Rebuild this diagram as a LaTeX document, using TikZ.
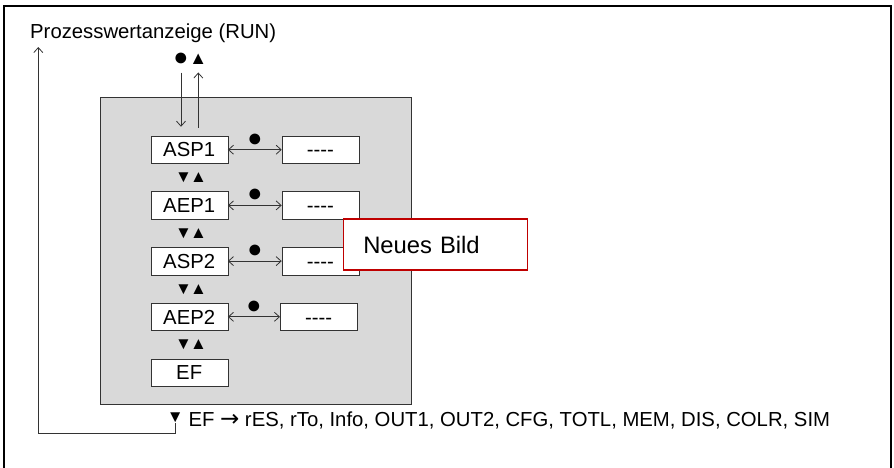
\documentclass[tikz,border=0pt]{standalone}
\usepackage{fontspec}
\setmainfont{Liberation Sans}
\newfontfamily\arrowfont{DejaVu Sans}
\usetikzlibrary{arrows.meta}

\begin{document}
\begin{tikzpicture}[x=1pt,y=-1pt]
	\useasboundingbox (0,0) rectangle (894,467);
	\def\outerFrame{(4,6) rectangle (891,475)} %page
	\def\menuPanel{(100,97.3) rectangle (411.7,404.3)} %grey panel

	\colorlet{line edge}{black!80}
	\colorlet{panel area}{black!15}
	\colorlet{note edge}{red!75!black}

	\tikzset{
		>={Straight Barb[length=5,width=9]},
		menubox/.style={draw=line edge, fill=white, minimum width=77, minimum height=27.5, inner sep=0, text height=14.5, text depth=0, font=\fontsize{20.3}{24}\selectfont},
		symb/.style={inner sep=0, font=\fontsize{17}{20}\selectfont},
		dotsymb/.style={inner sep=0, font=\fontsize{25}{28}\selectfont},
		plain/.style={inner sep=0, font=\fontsize{20.3}{24}\selectfont},
		link/.style={draw=line edge, line width=0.8},
		notebox/.style={draw=note edge, line width=1.6, fill=white, inner ysep=0, inner xsep=20, minimum height=51, text width=144, align=left, font=\fontsize{23.8}{28}\selectfont},
	}

	\draw[line width=1.6] \outerFrame;
	\draw[fill=panel area, draw=line edge, line width=0.8] \menuPanel;

	% parameter rows
	\foreach \name/\label/\row/\vx in {asp1/ASP1/0/320.4, aep1/AEP1/1/320.4, asp2/ASP2/2/320.4, aep2/AEP2/3/318.7} {
		\node[menubox] (\name) at (189.2,149.7+55.7*\row) {\label};
		\node[menubox] (\name-val) at (\vx,149.7+55.7*\row) {-{}-{}-{}-};
		\draw[link, <->] (\name) -- (\name-val) node[dotsymb, midway, yshift=9.7] {●};
		\node[symb] at (191,177.8+55.7*\row) {▼\kern-2pt▲};
	}
	\node[menubox] (ef) at (189.2,372.5) {EF};

	% entry from RUN
	\node[plain, anchor=base west] (title) at (30,38.6) {Prozesswertanzeige (RUN)};
	\node[dotsymb] (enterdot) at (181,59.3) {●};
	\node[symb, font=\fontsize{18}{20}\selectfont] (leavemark) at (198.3,59) {▲};
	\draw[link, ->, shorten <=7, shorten >=9] (enterdot) -- (enterdot |- asp1.north);
	\draw[link, ->, shorten <=8, shorten >=8] (leavemark |- asp1.north) -- (leavemark);

	% way back
	\node[symb] (backmark) at (175.3,418) {▼};
	\node[plain, anchor=base west] (jump) at (188.3,426.3) {EF {\arrowfont\fontsize{23}{26}\selectfont →} rES, rTo, Info, OUT1, OUT2, CFG, TOTL, MEM, DIS, COLR, SIM};
	\coordinate (turn) at (38.3,433.3);
	\draw[link, ->, shorten >=4] (backmark) -- (backmark |- turn) -- (turn) -- (turn |- title.south);

	\node[notebox] (note) at (435.3,244.5) {Neues Bild};
\end{tikzpicture}
\end{document}
